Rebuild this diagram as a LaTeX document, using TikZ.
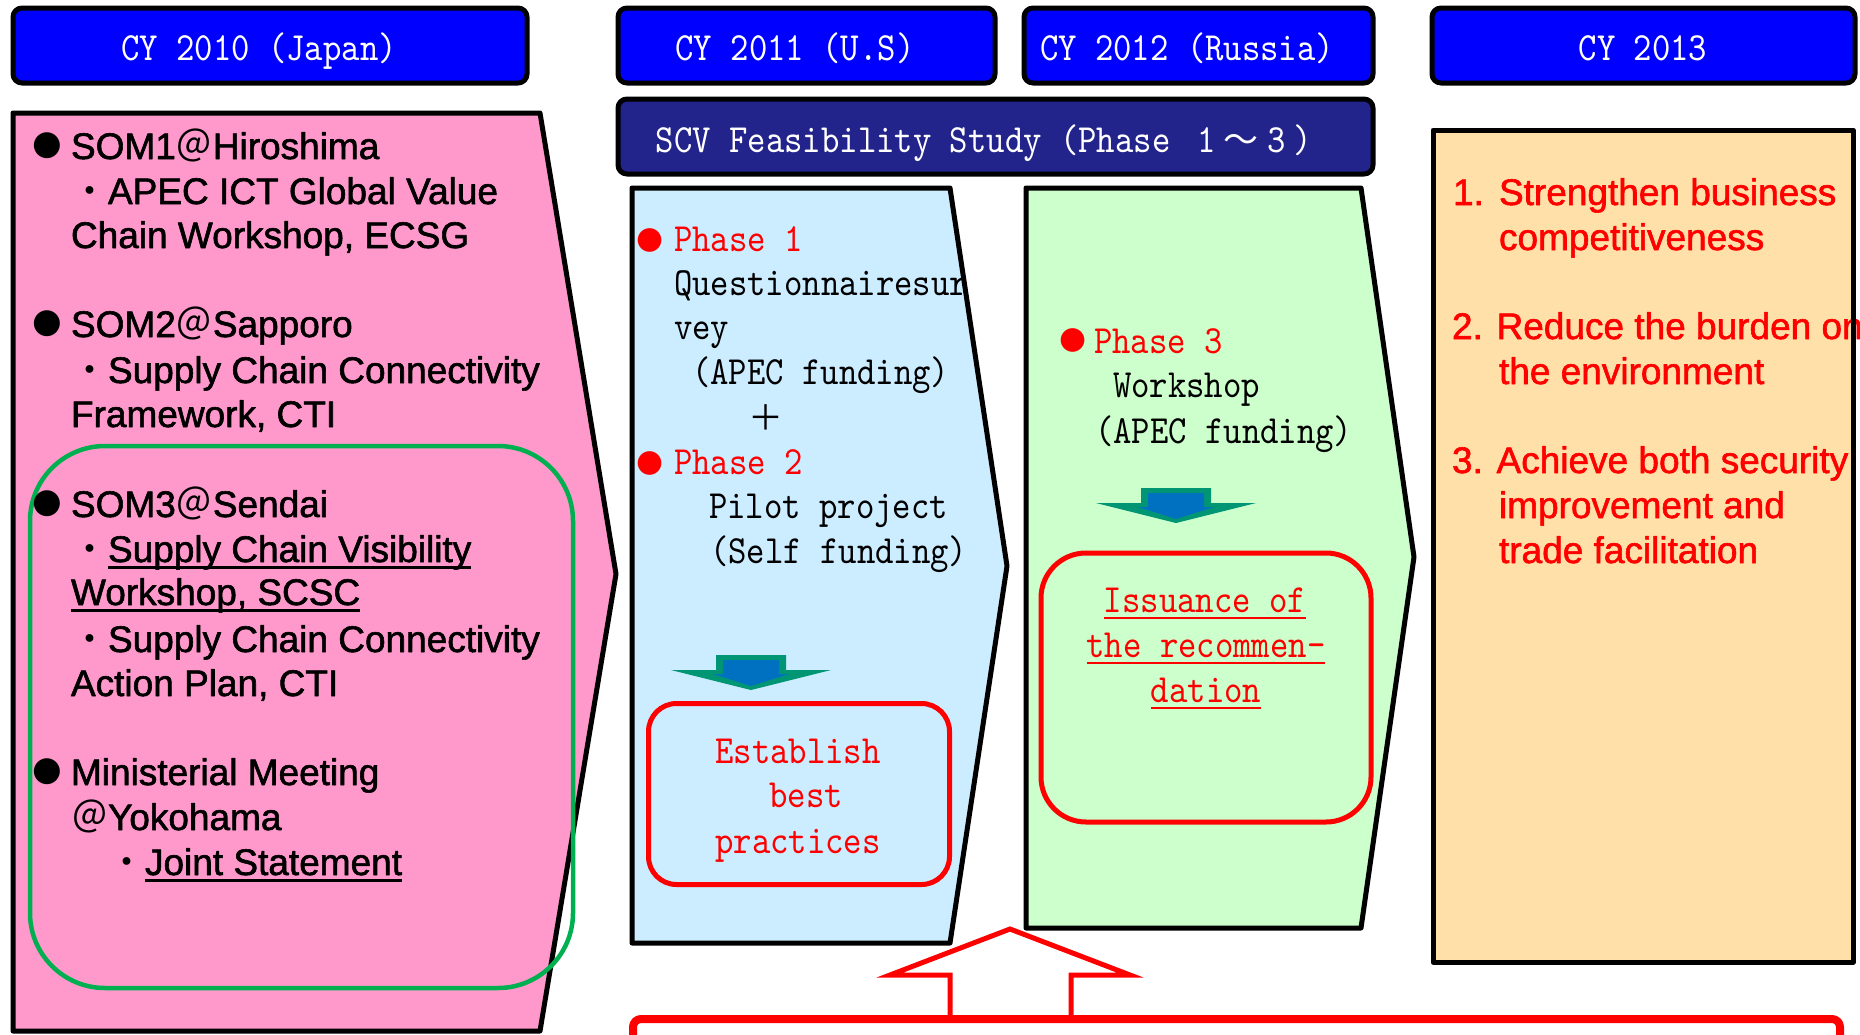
\documentclass[tikz,border=0pt]{standalone}
\usepackage{fontspec}
\newfontfamily\arial{Liberation Sans}[FakeBold=1.6]
\newfontfamily\cjk{Noto Sans CJK JP}
\newfontfamily\dejavu{DejaVu Sans}
\newfontfamily\mincho{lmmono10-regular.otf}[FakeStretch=0.875]
\definecolor{hdrblue}{RGB}{0,0,255}
\definecolor{navy}{RGB}{35,35,140}
\definecolor{pinkfill}{RGB}{255,153,204}
\definecolor{lbluefill}{RGB}{204,236,255}
\definecolor{lgreenfill}{RGB}{204,255,204}
\definecolor{orangefill}{RGB}{255,224,168}
\definecolor{tealarrow}{RGB}{0,150,115}
\definecolor{bluearrow}{RGB}{0,112,192}
\definecolor{ggreen}{RGB}{0,176,80}
\newcommand\ulsans[1]{\setbox0=\hbox{#1}\rlap{\rule[-6.5pt]{\wd0}{3pt}}\box0}
\newcommand\ulmono[1]{\setbox0=\hbox{#1}\rlap{\rule[-7.3pt]{\wd0}{2.6pt}}\box0}
\newcommand\dnarrow[2]{%
  \begin{scope}[shift={(#1,#2)}]
    \fill[tealarrow] (-35,0) -- (35,0) -- (35,15) -- (80,15) -- (0,35) -- (-80,15) -- (-35,15) -- cycle;
    \fill[bluearrow] (-28,5) -- (28,5) -- (28,19) -- (38,19) -- (0,31) -- (-38,19) -- (-28,19) -- cycle;
  \end{scope}}
\begin{document}
\begin{tikzpicture}[x=1pt,y=-1pt,line join=round,
  hdr/.style={draw=black,line width=5pt,fill=hdrblue,rounded corners=9pt,inner sep=0pt,minimum height=75pt},
  sans/.style={inner sep=0pt,outer sep=0pt,anchor=base west,font=\arial\fontsize{37}{44}\selectfont},
  sansred/.style={sans,text=red},
  mono/.style={inner sep=0pt,outer sep=0pt,anchor=base west,font=\mincho\fontsize{40}{45}\selectfont},
  monoc/.style={mono,anchor=base},
  hdrtxt/.style={monoc,text=white},
  bul/.style={inner sep=0pt,outer sep=0pt,font=\dejavu\fontsize{34}{34}\selectfont},
  redbul/.style={bul,text=red,font=\dejavu\fontsize{31}{31}\selectfont},
  redbox/.style={draw=red,line width=5pt,inner sep=0pt}]
\useasboundingbox (0,0) rectangle (1860,1034);
\fill[white] (0,0) rectangle (1860,1034);

% ---------- CY 2010 (pink) ----------
\filldraw[fill=pinkfill,draw=black,line width=5pt] (13,113) -- (540,113) -- (616,574) -- (540,1031) -- (13,1031) -- cycle;
\node[draw=ggreen,line width=4.5pt,rounded corners=75pt,minimum width=543pt,minimum height=542pt,inner sep=0pt] (group3) at (301.5,717) {};

\node[bul] (b1) at (47,146) {●};
\node[sans] (t1) at (71,159) {SOM1{\cjk ＠}Hiroshima};
\node[sans] (t2) at (71,204) {{\cjk ・}APEC ICT Global Value};
\node[sans] (t3) at (71,248) {Chain Workshop, ECSG};
\node[bul] (b2) at (47,324) {●};
\node[sans] (t4) at (71,337) {SOM2{\cjk ＠}Sapporo};
\node[sans] (t5) at (71,383) {{\cjk ・}Supply Chain Connectivity};
\node[sans] (t6) at (71,427) {Framework, CTI};
\node[bul] (b3) at (47,504) {●};
\node[sans] (t7) at (71,517) {SOM3{\cjk ＠}Sendai};
\node[sans] (t8) at (71,562) {{\cjk ・}\ulsans{Supply Chain Visibility}};
\node[sans] (t9) at (71,605) {\ulsans{Workshop, SCSC}};
\node[sans] (t10) at (71,652) {{\cjk ・}Supply Chain Connectivity};
\node[sans] (t11) at (71,696) {Action Plan, CTI};
\node[bul] (b4) at (47,772) {●};
\node[sans] (t12) at (71,785) {Ministerial Meeting};
\node[sans] (t13) at (71,830) {{\cjk ＠}Yokohama};
\node[sans] (t14) at (108,875) {{\cjk ・}\ulsans{Joint Statement}};

% ---------- CY 2011 (light blue) ----------
\fill[lbluefill] (632,188) -- (950,188) -- (1007,566) -- (950,943) -- (632,943) -- cycle;
\node[redbul] (pb1) at (650,240) {●};
\node[mono,text=red] (p1) at (674,251) {Phase 1};
\node[mono] (p1a) at (674,295) {Questionnairesur};
\node[mono] (p1b) at (674,339) {vey};
\node[mono] (p1c) at (692,384) {(APEC funding)};
\node[inner sep=0pt,font=\cjk\fontsize{35}{35}\selectfont] (plus) at (766,418) {＋};
\node[redbul] (pb2) at (650,463) {●};
\node[mono,text=red] (p2) at (674,474) {Phase 2};
\node[mono] (p2a) at (709,518) {Pilot project};
\node[mono] (p2b) at (710,563) {(Self funding)};
\dnarrow{751}{655}
\node[redbox,rounded corners=28pt,minimum width=301pt,minimum height=181pt] (best) at (799,794) {};
\node[monoc,text=red] (e1) at (798,763) {Establish};
\node[monoc,text=red] (e2) at (806,807) {best};
\node[monoc,text=red] (e3) at (798,853) {practices};
\draw[line width=5pt] (632,188) -- (950,188) -- (1007,566) -- (950,943) -- (632,943) -- cycle;

% ---------- CY 2012 (light green) ----------
\fill[lgreenfill] (1026,188) -- (1361,188) -- (1414,557) -- (1361,928) -- (1026,928) -- cycle;
\node[redbul] (pb3) at (1073,340) {●};
\node[mono,text=red] (p3) at (1094,353) {Phase 3};
\node[mono] (p3a) at (1113,397) {Workshop};
\node[mono] (p3b) at (1095,443) {(APEC funding)};
\dnarrow{1176}{488}
\node[redbox,rounded corners=45pt,minimum width=330pt,minimum height=269pt] (recom) at (1206,687.5) {};
\node[monoc,text=red] (r1) at (1205,612) {\ulmono{Issuance of}};
\node[monoc,text=red] (r2) at (1206,657) {\ulmono{the recommen-}};
\node[monoc,text=red] (r3) at (1206,702) {\ulmono{dation}};
\draw[line width=5pt] (1026,188) -- (1361,188) -- (1414,557) -- (1361,928) -- (1026,928) -- cycle;

% ---------- CY 2013 (orange) ----------
\fill[orangefill] (1433,130) rectangle (1853,962);
\node[sansred] (g1) at (1453,205) {\makebox[46pt][l]{1.}Strengthen business};
\node[sansred] (g1b) at (1499,250) {competitiveness};
\node[sansred] (g2) at (1452,339) {2. Reduce the burden on};
\node[sansred] (g2b) at (1499,384) {the environment};
\node[sansred] (g3) at (1452,473) {3. Achieve both security};
\node[sansred] (g3b) at (1499,518) {improvement and};
\node[sansred] (g3c) at (1499,563) {trade facilitation};
\draw[line width=5pt] (1433,130) rectangle (1853,962);

% ---------- headers ----------
\node[hdr,minimum width=514pt] (h2010) at (270,45.5) {};
\node[hdr,minimum width=377pt] (h2011) at (806.5,45.5) {};
\node[hdr,minimum width=349pt] (h2012) at (1198.5,45.5) {};
\node[hdr,minimum width=423pt] (h2013) at (1643.5,45.5) {};
\node[hdr,fill=navy,minimum width=755pt] (scv) at (995.5,136.5) {};
\node[hdrtxt] (ht1) at (259,60) {CY 2010 (Japan)};
\node[hdrtxt] (ht2) at (795,60) {CY 2011 (U.S)};
\node[hdrtxt] (ht3) at (1187,60) {CY 2012 (Russia)};
\node[hdrtxt] (ht4) at (1643,60) {CY 2013};
\node[hdrtxt] (ht5) at (984,152) {SCV Feasibility Study (Phase \makebox[35pt]{1}{\cjk\fontsize{35}{35}\selectfont ～}\makebox[35pt]{3})};

% ---------- bottom red frame and up arrow ----------
\coordinate (upL) at (950,1019);
\coordinate (upR) at (1071,1019);
\fill[white] (upL) -- (950,975) -- (890,975) -- (1010,929) -- (1130,975) -- (1071,975) -- (upR) -- cycle;
\draw[red,line width=5pt,line join=miter] (upL) -- (950,975) -- (890,975) -- (1010,929) -- (1130,975) -- (1071,975) -- (upR);
\draw[red,line width=8pt,rounded corners=8pt] (633,1045) -- (633,1019) -- (1840,1019) -- (1840,1045);
\end{tikzpicture}
\end{document}
